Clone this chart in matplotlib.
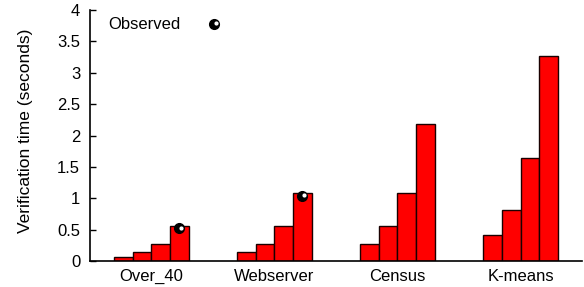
import matplotlib
matplotlib.use("Agg")
from matplotlib import pyplot as plt
from matplotlib import transforms
import numpy as np

plt.rcParams['font.family'] = ['Liberation Sans', 'DejaVu Sans']

# Data
benchmarks = ["Over_40", "Webserver", "Census", "K-means"]
times = [
    [0.07, 0.14, 0.27, 0.55],
    [0.14, 0.27, 0.55, 1.09],
    [0.27, 0.55, 1.09, 2.18],
    [0.41, 0.82, 1.64, 3.27],
]
observed_bench = [0, 1]   # index of benchmark
observed_vals = [0.52, 1.04]
yticks = [0, 0.5, 1, 1.5, 2, 2.5, 3, 3.5, 4]
ytick_labels = ["0", "0.5", "1", "1.5", "2", "2.5", "3", "3.5", "4"]

fig = plt.figure(figsize=(5.84, 2.87), dpi=100)
ax = fig.add_axes([0.154, 0.0906, 0.8426, 0.8744])

w = 0.151
x = np.arange(len(benchmarks))
for i in range(4):
    vals = [t[i] for t in times]
    ax.bar(x + (i - 1.5) * w, vals, width=w, color="#ff0000",
           edgecolor="#1a0000", linewidth=1.0, zorder=2)

# observed markers, last bar of each group
ox = [x[b] + 1.5 * w for b in observed_bench]
ax.plot(ox, observed_vals, "o", color="black", markersize=7, zorder=3)
hl = ax.transData + transforms.ScaledTranslation(1.2 / 72, 0.5 / 72, fig.dpi_scale_trans)
ax.plot(ox, observed_vals, "o", color="white", markersize=2.0, zorder=4,
        transform=hl)

# legend (key)
ax.text(0.037, 0.944, "Observed", transform=ax.transAxes, fontsize=12,
        ha="left", va="center")
ax.plot([0.252], [0.944], "o", color="black", markersize=7,
        transform=ax.transAxes, clip_on=False)
hl2 = ax.transAxes + transforms.ScaledTranslation(1.2 / 72, 0.5 / 72, fig.dpi_scale_trans)
ax.plot([0.252], [0.944], "o", color="white", markersize=2.0,
        transform=hl2, clip_on=False)

ax.set_xlim(-0.5, 3.5)
ax.set_ylim(0, 4)
ax.set_yticks(yticks)
ax.set_yticklabels(ytick_labels, fontsize=12)
ax.set_xticks(x)
ax.set_xticklabels(benchmarks, fontsize=12)
ax.tick_params(axis="x", length=0, pad=6)
ax.tick_params(axis="y", direction="in", length=4, width=1, pad=7)
ax.spines["top"].set_visible(False)
ax.spines["right"].set_visible(False)
ax.spines["left"].set_linewidth(1.2)
ax.spines["bottom"].set_linewidth(1.2)
ax.set_ylabel("Verification time (seconds)", fontsize=12.5)
ax.yaxis.set_label_coords(-0.116, 0.52)

fig.savefig("out.png", dpi=100)
